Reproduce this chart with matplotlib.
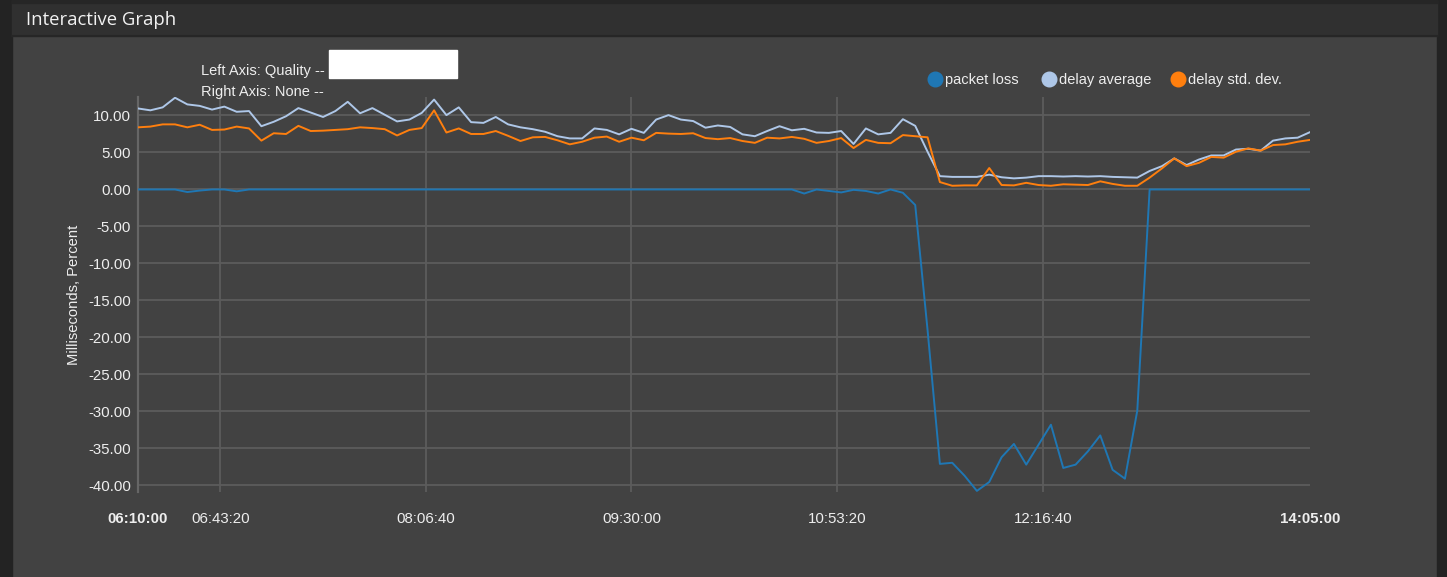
import matplotlib
matplotlib.use('Agg')
import matplotlib.pyplot as plt
from matplotlib.lines import Line2D
from matplotlib.patches import Rectangle
import pandas as pd

# samples every 5 minutes from 06:10 to 14:05
times = pd.date_range('2024-01-01 06:10', periods=96, freq='5min')

packet_loss = [0, 0, 0, 0, -0.35, -0.15, 0, 0, -0.25, 0,
               0, 0, 0, 0, 0, 0, 0, 0, 0, 0,
               0, 0, 0, 0, 0, 0, 0, 0, 0, 0,
               0, 0, 0, 0, 0, 0, 0, 0, 0, 0,
               0, 0, 0, 0, 0, 0, 0, 0, 0, 0,
               0, 0, 0, 0, -0.55, 0, -0.2, -0.4, -0.05, -0.2,
               -0.55, 0, -0.45, -2.1, -19.0, -37.1, -36.95, -38.7, -40.75, -39.55,
               -36.2, -34.4, -37.2, -34.5, -31.8, -37.65, -37.2, -35.4, -33.25, -37.9,
               -39.1, -29.9, 0, 0, 0, 0, 0, 0, 0, 0,
               0, 0, 0, 0, 0, 0]

delay_avg = [10.95, 10.7, 11.1, 12.4, 11.5, 11.3, 10.8, 11.2, 10.5, 10.6,
             8.55, 9.15, 9.9, 11.0, 10.4, 9.8, 10.6, 11.85, 10.3, 11.0,
             10.1, 9.2, 9.45, 10.35, 12.15, 10.05, 11.1, 9.1, 9.0, 9.8,
             8.8, 8.4, 8.15, 7.8, 7.2, 6.9, 6.9, 8.25, 8.05, 7.45,
             8.2, 7.65, 9.45, 10.05, 9.45, 9.25, 8.35, 8.65, 8.45, 7.45,
             7.2, 7.9, 8.55, 8.0, 8.2, 7.7, 7.65, 7.9, 6.15, 8.25,
             7.45, 7.65, 9.5, 8.6, 5.1, 1.8, 1.7, 1.7, 1.7, 2.0,
             1.65, 1.5, 1.6, 1.8, 1.8, 1.75, 1.8, 1.75, 1.8, 1.7,
             1.65, 1.6, 2.5, 3.15, 4.2, 3.3, 4.05, 4.6, 4.6, 5.4,
             5.5, 5.25, 6.6, 6.9, 7.0, 7.75]

delay_std = [8.4, 8.5, 8.8, 8.8, 8.4, 8.75, 8.05, 8.1, 8.5, 8.25,
             6.6, 7.6, 7.5, 8.6, 7.9, 7.95, 8.05, 8.15, 8.4, 8.3,
             8.15, 7.3, 8.05, 8.3, 10.7, 7.7, 8.25, 7.5, 7.5, 7.9,
             7.25, 6.55, 7.05, 7.1, 6.65, 6.1, 6.45, 7.0, 7.15, 6.45,
             7.0, 6.65, 7.65, 7.55, 7.5, 7.6, 6.95, 6.8, 6.95, 6.55,
             6.3, 7.0, 6.9, 7.1, 6.85, 6.3, 6.55, 6.95, 5.6, 6.7,
             6.3, 6.25, 7.35, 7.2, 7.05, 1.0, 0.5, 0.55, 0.55, 2.9,
             0.6, 0.55, 0.9, 0.6, 0.5, 0.7, 0.65, 0.6, 1.1, 0.75,
             0.5, 0.5, 1.6, 2.85, 4.2, 3.15, 3.6, 4.4, 4.3, 5.1,
             5.55, 5.25, 6.0, 6.1, 6.45, 6.7]

series_names = ['packet loss', 'delay average', 'delay std. dev.']
series_colors = ['#1f77b4', '#aec7e8', '#ff7f0e']

x_tick_labels = ['06:10:00', '06:43:20', '08:06:40', '09:30:00',
                 '10:53:20', '12:16:40', '14:05:00']
y_ticks = [10, 5, 0, -5, -10, -15, -20, -25, -30, -35, -40]

W, H = 1447, 577
bg = '#424242'
txt = '#eeeeee'
grid_c = '#5c5c5c'

plt.rcParams['font.family'] = ['Liberation Sans', 'DejaVu Sans']

fig = plt.figure(figsize=(W / 100, H / 100), dpi=100, facecolor=bg)

def fx(px):
    return px / W

def fy(py):
    return 1 - py / H

# page / panel chrome
fig.add_artist(Rectangle((0, 0), fx(12), 1, transform=fig.transFigure, color='#232323', zorder=0))
fig.add_artist(Rectangle((fx(1437), 0), fx(10), 1, transform=fig.transFigure, color='#232323', zorder=0))
fig.add_artist(Rectangle((fx(12), fy(36)), fx(1425), 36 / H, transform=fig.transFigure,
                         color='#303030', zorder=0))
fig.add_artist(Rectangle((fx(12), fy(3)), fx(1425), 3 / H, transform=fig.transFigure,
                         color='#262626', zorder=0))
fig.add_artist(Line2D([fx(12), fx(1437)], [fy(36), fy(36)], transform=fig.transFigure,
                      color='#262626', lw=1.5))
fig.text(fx(26), fy(20), 'Interactive Graph', color='#f2f2f2', fontsize=13.3,
         family=['Open Sans', 'DejaVu Sans'], va='center', ha='left')

# axis info text + redaction box
fig.text(fx(201), fy(71), 'Left Axis: Quality --', color=txt, fontsize=10.5, va='center')
fig.text(fx(201), fy(92), 'Right Axis: None --', color=txt, fontsize=10.5, va='center')
fig.add_artist(Rectangle((fx(329), fy(78)), fx(128), 28 / H, transform=fig.transFigure,
                         color='white', zorder=2))

ax = fig.add_axes([fx(138), fy(492), fx(1310 - 138), (492 - 97) / H])
ax.set_facecolor(bg)

for vals, name, col in zip([packet_loss, delay_avg, delay_std], series_names, series_colors):
    ax.plot(times, vals, color=col, lw=1.4, label=name, zorder=3)

tick_times = [pd.Timestamp('2024-01-01 ' + t) for t in x_tick_labels]
ax.set_xlim(times[0], times[-1])
ax.set_ylim(-40.9, 12.5)

ax.set_xticks(tick_times)
ax.set_xticklabels(x_tick_labels)
for i, lab in enumerate(ax.get_xticklabels()):
    if i == 0 or i == len(x_tick_labels) - 1:
        lab.set_fontweight('bold')
ax.tick_params(axis='x', length=0, pad=14.5, colors=txt, labelsize=10.8)

ax.set_yticks(y_ticks)
ax.set_yticklabels(['%.2f' % v for v in y_ticks])
ax.tick_params(axis='y', length=0, pad=5, colors=txt, labelsize=10.8)

ax.grid(axis='y', color=grid_c, lw=1.3, zorder=1)
for t in tick_times[1:-1]:
    ax.axvline(t, color=grid_c, lw=1.3, zorder=1)

for s in ['top', 'right', 'bottom']:
    ax.spines[s].set_visible(False)
ax.spines['left'].set_color('#666666')
ax.spines['left'].set_linewidth(1.6)

ax.set_ylabel('Milliseconds, Percent', color=txt, fontsize=10.6, labelpad=5)

# legend drawn as circles + text along the top right
legend_x = [935, 1049, 1178]
for px, name, col in zip(legend_x, series_names, series_colors):
    fig.add_artist(Line2D([fx(px)], [fy(79)], transform=fig.transFigure, marker='o',
                          markersize=10.5, color=col, lw=0))
    fig.text(fx(px + 10), fy(80.5), name, color=txt, fontsize=10.5, va='center', ha='left')

fig.savefig('out.png', dpi=100, facecolor=bg)
